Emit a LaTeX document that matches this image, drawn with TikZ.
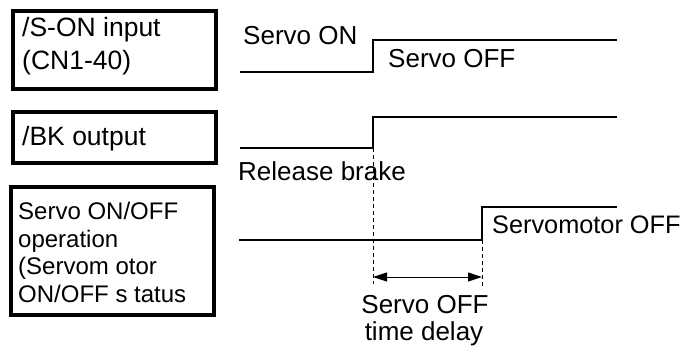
\documentclass[tikz,border=0pt]{standalone}
\usepackage{fontspec}
\setmainfont{Liberation Sans}
\usetikzlibrary{arrows.meta}
\begin{document}
\begin{tikzpicture}[x=1pt,y=-1pt,
  box/.style={draw=black,line width=3.3pt},
  lbl/.style={anchor=base west,inner sep=0pt,font=\fontsize{26}{30}\selectfont},
  blbl/.style={anchor=base west,inner sep=0pt,font=\fontsize{26.5}{30}\selectfont},
  slbl/.style={anchor=base west,inner sep=0pt,font=\fontsize{24}{27}\selectfont},
  clbl/.style={anchor=base,inner sep=0pt,font=\fontsize{26}{30}\selectfont},
  sig/.style={line width=1.6pt,line cap=butt,line join=miter},
  guide/.style={line width=0.8pt,dash pattern=on 4pt off 3pt},
  dim/.style={line width=1pt,{Triangle[length=14pt,width=9pt]}-{Triangle[length=14pt,width=9pt]}}]
\useasboundingbox (0,0) rectangle (685,348);
% boxes
\draw[box] (13,11) rectangle (216,89);
\draw[box] (13,112) rectangle (216,163);
\draw[box] (11,187) rectangle (214,315);
\node[blbl] (t1a) at (22,36) {/S-ON input};
\node[blbl] (t1b) at (22,69) {(CN1-40)};
\node[blbl] (t2) at (22,145) {/BK output};
\node[slbl] (t3a) at (18,219) {Servo ON/OFF};
\node[slbl] (t3b) at (18,247) {operation};
\node[slbl] (t3c) at (18,274) {(Servom otor};
\node[slbl] (t3d) at (18,302) {ON/OFF s tatus};
% signal coordinates
\coordinate (s1a) at (240,72);
\coordinate (s1b) at (373,72);
\coordinate (s1c) at (373,40);
\coordinate (s1d) at (617,40);
\coordinate (s2a) at (240,148);
\coordinate (s2b) at (373,148);
\coordinate (s2c) at (373,117);
\coordinate (s2d) at (617,117);
\coordinate (s3a) at (239,240);
\coordinate (s3b) at (482,240);
\coordinate (s3c) at (482,207);
\coordinate (s3d) at (617,207);
\coordinate (g1) at (373,284);
\coordinate (g2) at (482,286);
\coordinate (a1) at (373,277);
\coordinate (a2) at (482,277);
\draw[sig] (s1a) -- (s1b) -- (s1c) -- (s1d);
\draw[sig,line width=2pt] (s2a) -- (s2b) -- (s2c) -- (s2d);
\draw[sig] (s3a) -- (s3b) -- (s3c) -- (s3d);
\draw[guide] (s2b) -- (g1);
\draw[guide] (s3b) -- (g2);
\draw[dim] (a1) -- (a2);
% labels
\node[lbl] (l1) at (243,44) {Servo ON};
\node[lbl] (l2) at (388,67) {Servo OFF};
\node[lbl] (l3) at (238,180) {Release brake};
\node[lbl,font=\fontsize{25.3}{30}\selectfont] (l4) at (492,233) {Servomotor OFF};
\node[clbl] (l5) at (425,313) {Servo OFF};
\node[clbl] (l6) at (424,340) {time delay};
\end{tikzpicture}
\end{document}
